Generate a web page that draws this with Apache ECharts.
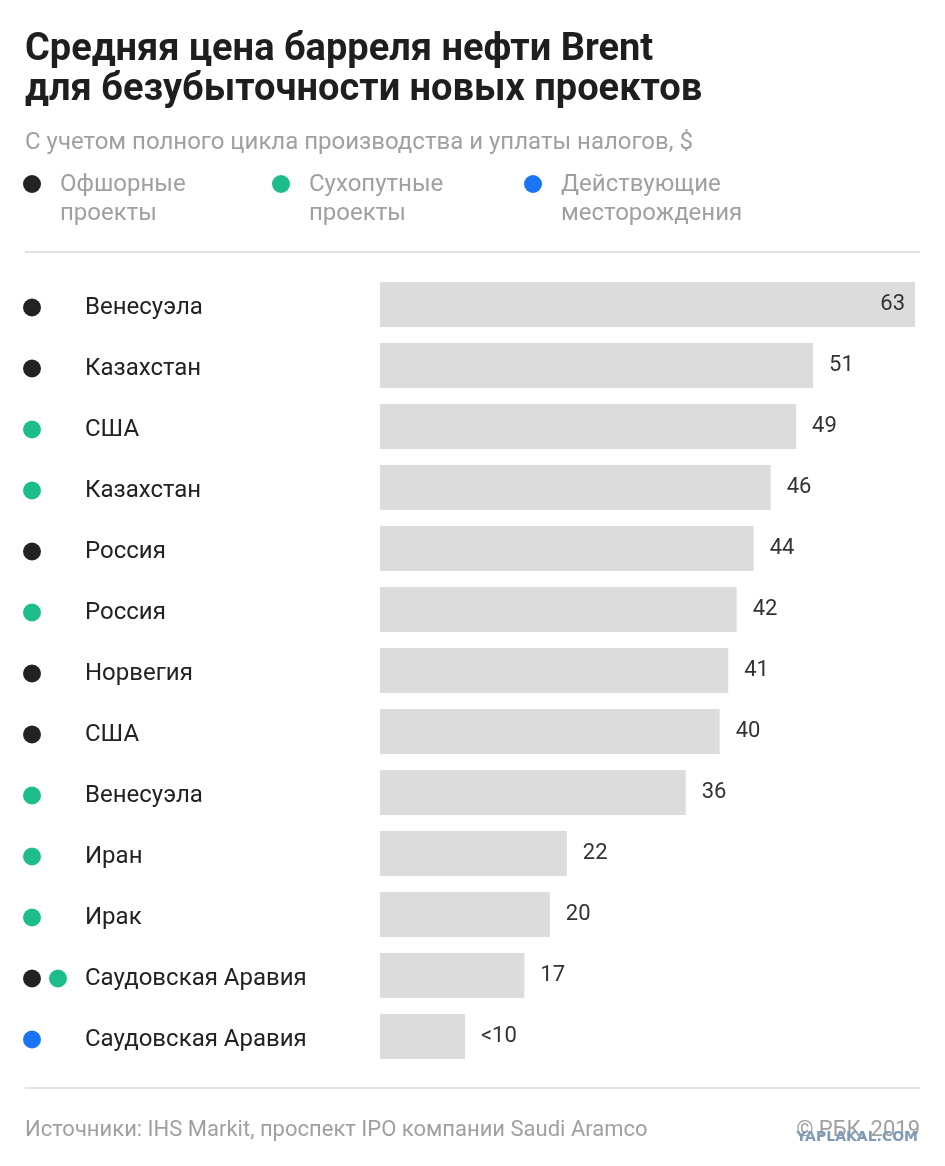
<!DOCTYPE html>
<html style="height: 100%">
<head>
    <meta charset="utf-8">
    <title>Brent</title>
</head>
<body style="height: 100%; margin: 0; background: #fff">
<div id="container" style="width: 945px; height: 1166px"></div>
<script type="text/javascript" src="https://cdn.jsdelivr.net/npm/echarts@6/dist/echarts.min.js"></script>
<script type="text/javascript">
    // данные
    var categories = ['Венесуэла', 'Казахстан', 'США', 'Казахстан', 'Россия', 'Россия', 'Норвегия',
        'США', 'Венесуэла', 'Иран', 'Ирак', 'Саудовская Аравия', 'Саудовская Аравия'];
    var values = [63, 51, 49, 46, 44, 42, 41, 40, 36, 22, 20, 17, 10];
    var valueLabels = ['63', '51', '49', '46', '44', '42', '41', '40', '36', '22', '20', '17', '<10'];
    // типы проектов: o - офшорные, l - сухопутные, f - действующие месторождения
    var projectTypes = [['o'], ['o'], ['l'], ['l'], ['o'], ['l'], ['o'], ['o'], ['l'], ['l'], ['l'], ['o', 'l'], ['f']];
    var legendNames = ['Офшорные\nпроекты', 'Сухопутные\nпроекты', 'Действующие\nместорождения'];

    var font = 'Roboto';
    var dotColors = {o: '#222222', l: '#1dbd8b', f: '#1a74f6'};

    var dom = document.getElementById("container");
    var myChart = echarts.init(dom);

    var maxVal = Math.max.apply(null, values);
    var barData = values.map(function (v, i) {
        var inside = v === maxVal;
        return {
            value: v,
            label: {
                position: inside ? 'insideRight' : 'right',
                distance: inside ? 10 : 16
            }
        };
    });

    var legendGraphics = [];
    var legendX = [32, 281, 533];
    ['o', 'l', 'f'].forEach(function (k, i) {
        legendGraphics.push({
            type: 'circle', shape: {cx: legendX[i], cy: 184, r: 9},
            style: {fill: dotColors[k]}
        });
        legendGraphics.push({
            type: 'text', x: legendX[i] + 28, y: 170,
            style: {text: legendNames[i], fill: '#a0a0a0', font: '24px ' + font, lineHeight: 29}
        });
    });

    var option = {
        animation: false,
        title: [{
            text: 'Средняя цена барреля нефти Brent\nдля безубыточности новых проектов',
            left: 25, top: 30, padding: 0,
            textStyle: {fontFamily: font, fontSize: 38, fontWeight: 'bold', color: '#1e1e1e', lineHeight: 40}
        }, {
            text: 'С учетом полного цикла производства и уплаты налогов, $',
            left: 25, top: 131, padding: 0,
            textStyle: {fontFamily: font, fontSize: 24, fontWeight: 'normal', color: '#a0a0a0'}
        }, {
            text: 'Источники: IHS Markit, проспект IPO компании Saudi Aramco',
            left: 25, top: 1119, padding: 0,
            textStyle: {fontFamily: font, fontSize: 22, fontWeight: 'normal', color: '#a0a0a0'}
        }, {
            text: '© РБК, 2019',
            right: 25, top: 1119, padding: 0,
            textStyle: {fontFamily: font, fontSize: 22, fontWeight: 'normal', color: '#a0a0a0'}
        }, {
            text: 'YAPLAKAL.COM',
            right: 27, top: 1130, padding: 0,
            textStyle: {fontFamily: 'DejaVu Sans', fontSize: 14, fontWeight: 'bold', color: '#7f9bb8'}
        }],
        graphic: legendGraphics.concat([
            {type: 'line', shape: {x1: 25, y1: 252, x2: 920, y2: 252}, style: {stroke: '#e3e3e3', lineWidth: 2}},
            {type: 'line', shape: {x1: 25, y1: 1088, x2: 920, y2: 1088}, style: {stroke: '#e3e3e3', lineWidth: 2}}
        ]),
        grid: {left: 380, right: 30, top: 274, height: 793, containLabel: false, outerBoundsMode: 'none'},
        xAxis: {
            type: 'value', min: 0, max: maxVal,
            show: false
        },
        yAxis: {
            type: 'category',
            data: categories,
            inverse: true,
            axisLine: {show: false},
            axisTick: {show: false},
            splitLine: {show: false},
            axisLabel: {
                align: 'left',
                margin: 357,
                padding: [6, 0, 0, 0],
                formatter: function (name, idx) {
                    var t = projectTypes[idx];
                    var a = t[0] ? '{' + t[0] + '| }' : '{e| }';
                    var b = t[1] ? '{' + t[1] + '| }' : '{e| }';
                    return a + '{s| }' + b + '{g| }{t|' + name + '}';
                },
                rich: {
                    e: {width: 18, height: 18},
                    o: {width: 18, height: 18, borderRadius: 9, backgroundColor: dotColors.o},
                    l: {width: 18, height: 18, borderRadius: 9, backgroundColor: dotColors.l},
                    f: {width: 18, height: 18, borderRadius: 9, backgroundColor: dotColors.f},
                    s: {width: 8},
                    g: {width: 18},
                    t: {fontFamily: font, fontSize: 24, color: '#222222'}
                }
            }
        },
        series: [{
            type: 'bar',
            data: barData,
            barWidth: 45,
            itemStyle: {color: '#dcdcdc'},
            label: {
                show: true,
                fontFamily: font,
                fontSize: 22,
                color: '#333333',
                formatter: function (p) {
                    return valueLabels[p.dataIndex];
                }
            }
        }]
    };
    myChart.setOption(option, true);
</script>
</body>
</html>
